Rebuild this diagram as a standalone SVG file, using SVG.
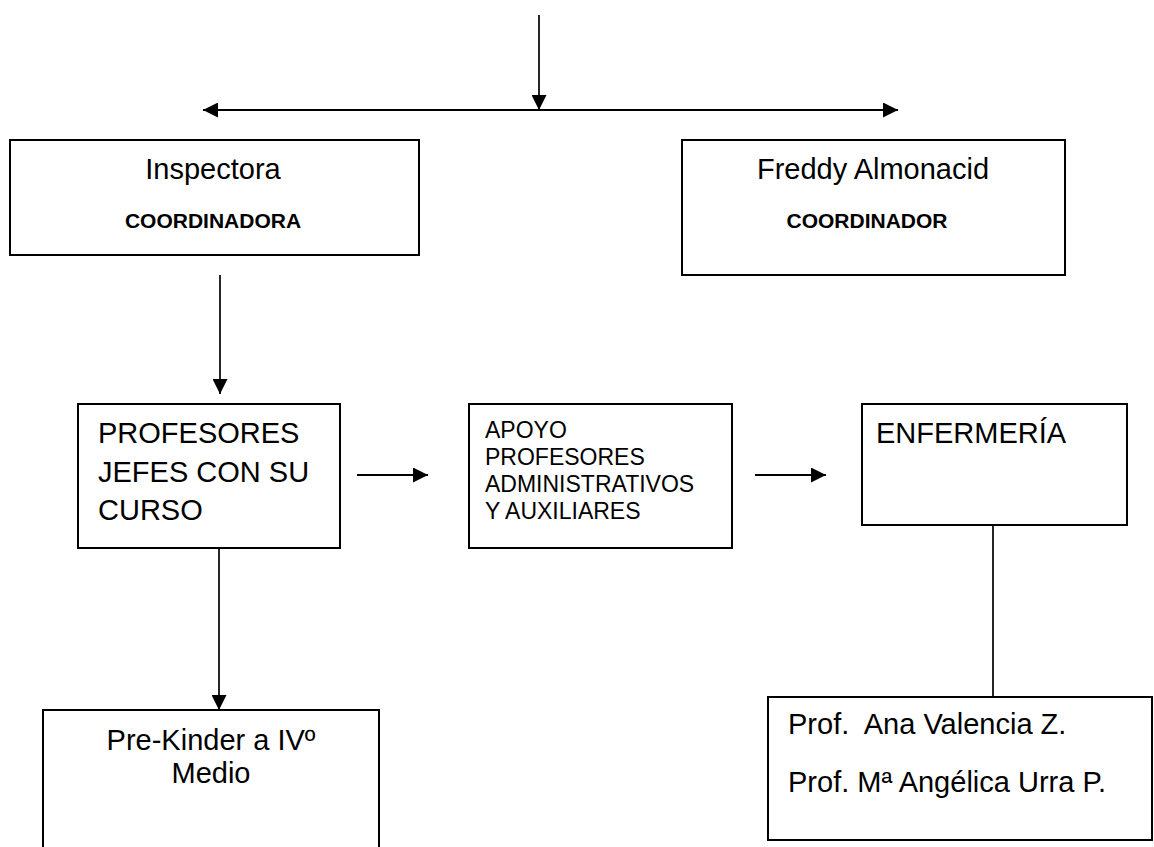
<svg xmlns="http://www.w3.org/2000/svg" width="1154" height="847" viewBox="0 0 1154 847">
<defs>
<marker id="arr" viewBox="0 0 15 15" markerWidth="15" markerHeight="15" refX="15" refY="7.5" orient="auto-start-reverse" markerUnits="userSpaceOnUse">
<path d="M0,0 L15,7.5 L0,15 z" fill="#000"/>
</marker>
</defs>
<style>
.box{fill:#fff;stroke:#000;stroke-width:2}
.t{font-family:"Liberation Sans",Arial,sans-serif;fill:#000}
.big{font-size:29px}
.mid{font-size:23px}
.b{font-size:21px;font-weight:bold}
.c{text-anchor:middle}
.pre{white-space:pre}
.con line{stroke:#000;stroke-width:1.7;fill:none}
</style>
<rect width="1154" height="847" fill="#fff"/>
<g id="connectors" class="con">
<line x1="539" y1="15" x2="539" y2="110" marker-end="url(#arr)"/>
<line x1="203" y1="110" x2="898" y2="110" marker-start="url(#arr)" marker-end="url(#arr)" style="stroke-width:2"/>
<line x1="220" y1="275" x2="220" y2="394" marker-end="url(#arr)"/>
<line x1="357" y1="475" x2="428" y2="475" marker-end="url(#arr)" style="stroke-width:2"/>
<line x1="755" y1="475" x2="826" y2="475" marker-end="url(#arr)" style="stroke-width:2"/>
<line x1="219" y1="548" x2="219" y2="710" marker-end="url(#arr)"/>
<line x1="993" y1="525" x2="993" y2="697"/>
</g>
<g id="inspectora">
<rect class="box" x="10" y="140" width="409" height="115"/>
<text class="t big c" x="213" y="179">Inspectora</text>
<text class="t b c" x="213" y="228">COORDINADORA</text>
</g>
<g id="freddy">
<rect class="box" x="682" y="140" width="383" height="135"/>
<text class="t big c" x="873" y="179">Freddy Almonacid</text>
<text class="t b c" x="867" y="228">COORDINADOR</text>
</g>
<g id="profesores">
<rect class="box" x="78" y="404" width="262" height="144"/>
<text class="t big" x="98" y="443">PROFESORES</text>
<text class="t big" x="98" y="482">JEFES CON SU</text>
<text class="t big" x="98" y="520">CURSO</text>
</g>
<g id="apoyo">
<rect class="box" x="469" y="404" width="263" height="144"/>
<text class="t mid" x="485" y="438">APOYO</text>
<text class="t mid" x="485" y="465">PROFESORES</text>
<text class="t mid" x="485" y="492">ADMINISTRATIVOS</text>
<text class="t mid" x="485" y="519">Y AUXILIARES</text>
</g>
<g id="enfermeria">
<rect class="box" x="862" y="404" width="265" height="121"/>
<text class="t big" x="876" y="443">ENFERMERÍA</text>
</g>
<g id="prekinder">
<rect class="box" x="43" y="710" width="336" height="150"/>
<text class="t big c" x="211" y="750">Pre-Kinder a IVº</text>
<text class="t big c" x="211" y="783">Medio</text>
</g>
<g id="profs">
<rect class="box" x="768" y="697" width="384" height="143"/>
<text class="t big pre" x="788" y="734">Prof.  Ana Valencia Z.</text>
<text class="t big" x="788" y="792">Prof. Mª Angélica Urra P.</text>
</g>
</svg>
